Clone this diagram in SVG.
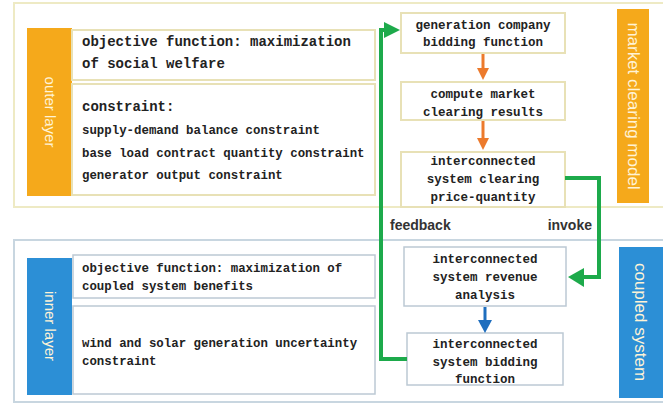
<svg xmlns="http://www.w3.org/2000/svg" width="663" height="406" viewBox="0 0 663 406">
<style>
.cont-top{fill:#fff;stroke:#EEEAC4;stroke-width:2}
.cont-bot{fill:#fff;stroke:#C8D6E0;stroke-width:2}
.bt{fill:#fff;stroke:#E8E1B6;stroke-width:2}
.bb{fill:#fff;stroke:#BCC9D4;stroke-width:1.5}
.bar-o{fill:#F5A91B}
.bar-b{fill:#2C8FD6}
.vt{font-family:"Liberation Sans","DejaVu Sans",sans-serif;font-size:15px;fill:#FFF3D6;text-anchor:middle;dominant-baseline:central}
.t{font-family:"Liberation Mono","DejaVu Sans Mono",monospace;font-weight:bold;fill:#222}
.t14{font-size:14px}
.t12{font-size:12.4px}
.c{text-anchor:middle;font-size:12.5px}
.lbl{font-family:"Liberation Sans","DejaVu Sans",sans-serif;font-weight:bold;font-size:14px;fill:#333}
.g{fill:none;stroke:#1DAA4B;stroke-width:4;stroke-linejoin:miter}
</style>
<rect width="663" height="406" fill="#fff"/>
<rect class="cont-top" x="14" y="3" width="660" height="204"/>
<rect class="cont-bot" x="14" y="240" width="660" height="162"/>

<g id="outer-layer">
<rect class="bar-o" x="27" y="28" width="45" height="168"/>
<text class="vt" transform="translate(50,112) rotate(90)">outer layer</text>
</g>
<g id="outer-objective">
<rect class="bt" x="72" y="30" width="303" height="50"/>
<text class="t t14" x="82" y="46">objective function: maximization</text>
<text class="t t14" x="82" y="68">of social welfare</text>
</g>
<g id="outer-constraint">
<rect class="bt" x="72" y="84" width="303" height="111"/>
<text class="t t14" x="82" y="111">constraint:</text>
<text class="t t12" x="82" y="134">supply-demand balance constraint</text>
<text class="t t12" x="82" y="157">base load contract quantity constraint</text>
<text class="t t12" x="82" y="179">generator output constraint</text>
</g>

<g id="inner-layer">
<rect class="bar-b" x="27" y="258" width="45" height="137"/>
<text class="vt" transform="translate(50,326) rotate(90)">inner layer</text>
</g>
<g id="inner-objective">
<rect class="bb" x="73" y="255" width="302" height="43"/>
<text class="t t12" x="82" y="272">objective function: maximization of</text>
<text class="t t12" x="82" y="290">coupled system benefits</text>
</g>
<g id="inner-constraint">
<rect class="bb" x="73" y="306" width="302" height="88"/>
<text class="t t12" x="82" y="347">wind and solar generation uncertainty</text>
<text class="t t12" x="82" y="365">constraint</text>
</g>

<g id="market-clearing-model">
<rect class="bar-o" x="617" y="9" width="32" height="194"/>
<text class="vt" style="font-size:17px" transform="translate(633,106) rotate(90)">market clearing model</text>
</g>
<g id="coupled-system">
<rect class="bar-b" x="619" y="247" width="46" height="151"/>
<text class="vt" style="font-size:17px" transform="translate(640,322) rotate(90)">coupled system</text>
</g>

<g id="gen-bidding">
<rect class="bt" x="401" y="13" width="164" height="40"/>
<text class="t c" x="483" y="29">generation company</text>
<text class="t c" x="483" y="46">bidding function</text>
</g>
<g id="compute">
<rect class="bt" x="401" y="82" width="164" height="38"/>
<text class="t c" x="483" y="98">compute market</text>
<text class="t c" x="483" y="116">clearing results</text>
</g>
<g id="clearing-price">
<rect class="bt" x="401" y="152" width="164" height="55"/>
<text class="t c" x="483" y="165">interconnected</text>
<text class="t c" x="483" y="183">system clearing</text>
<text class="t c" x="483" y="201">price-quantity</text>
</g>
<g id="revenue">
<rect class="bb" x="404" y="247" width="162" height="59"/>
<text class="t c" x="485" y="263">interconnected</text>
<text class="t c" x="485" y="281">system revenue</text>
<text class="t c" x="485" y="299">analysis</text>
</g>
<g id="bidding">
<rect class="bb" x="407" y="333" width="156" height="52"/>
<text class="t c" x="485" y="348">interconnected</text>
<text class="t c" x="485" y="366">system bidding</text>
<text class="t c" x="485" y="383">function</text>
</g>

<g id="connectors">
<line x1="483" y1="54" x2="483" y2="69" stroke="#EC7A2C" stroke-width="3"/>
<polygon points="477,68 489,68 483,80" fill="#EC7A2C"/>
<line x1="483" y1="121" x2="483" y2="139" stroke="#EC7A2C" stroke-width="3"/>
<polygon points="477,138 489,138 483,150" fill="#EC7A2C"/>
<line x1="485" y1="307" x2="485" y2="321" stroke="#1F6EBE" stroke-width="3"/>
<polygon points="478,320 492,320 485,333" fill="#1F6EBE"/>
<polyline class="g" points="565,178 599,178 599,277 582,277"/>
<polygon points="584,268 584,287 568,277" fill="#1DAA4B"/>
<polyline class="g" points="407,359 381,359 381,30 386,30"/>
<polygon points="384,22 384,38 400,30" fill="#1DAA4B"/>
<text class="lbl" x="390" y="230">feedback</text>
<text class="lbl" x="592" y="230" text-anchor="end">invoke</text>
</g>
</svg>
